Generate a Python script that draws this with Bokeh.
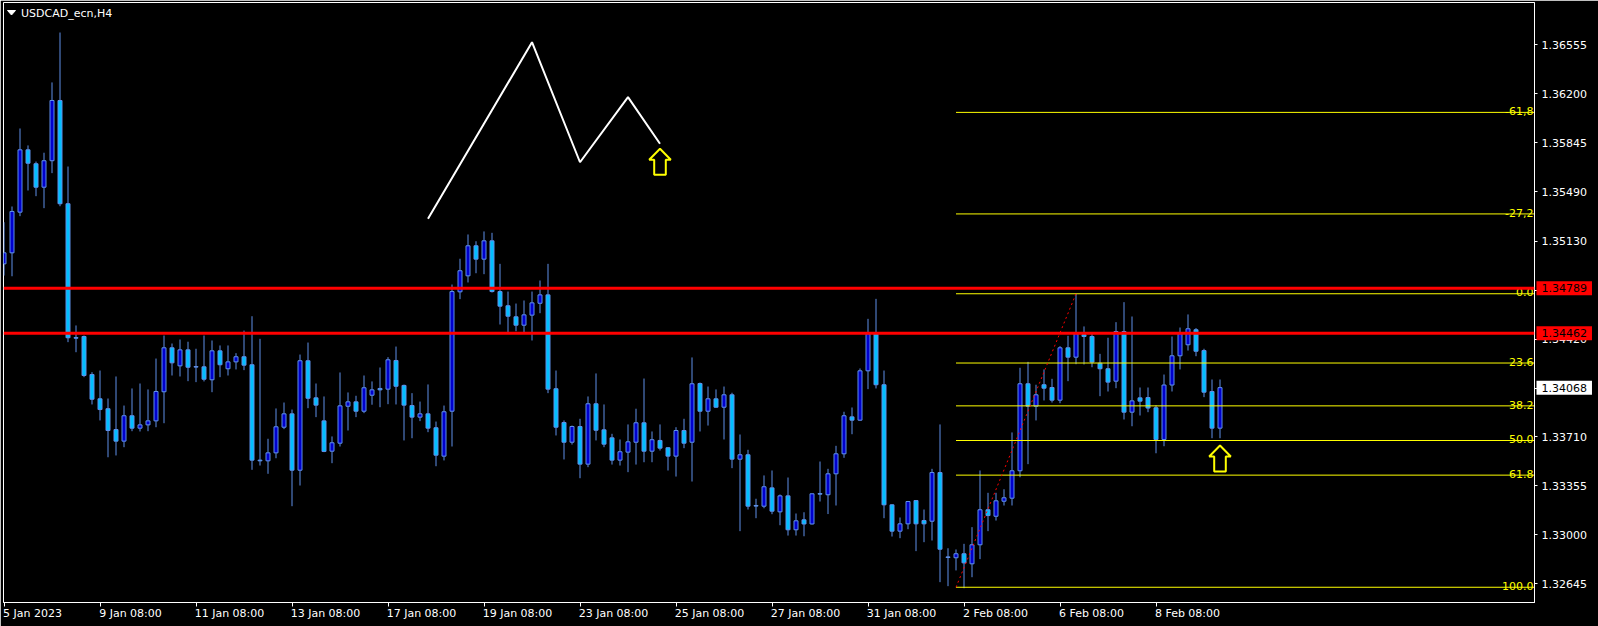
from bokeh.plotting import figure
from bokeh.models import (Range1d, FixedTicker, PrintfTickFormatter, Span, Label,
                          LinearAxis)
from bokeh.embed import file_html
from bokeh.resources import INLINE
from bokeh.core.properties import value

# ---------------- data ----------------
symbol_title = "USDCAD_ecn,H4"

opens = [1.34966, 1.35046, 1.35341, 1.35793, 1.35692, 1.35522, 1.35714, 1.36151, 1.35402, 1.34430,
         1.34439, 1.34163, 1.33987, 1.33915, 1.33764, 1.33680, 1.33864, 1.33774, 1.33798, 1.33827,
         1.34038, 1.34357, 1.34226, 1.34342, 1.34219, 1.34219, 1.34125, 1.34335, 1.34205, 1.34255,
         1.34292, 1.34234, 1.33542, 1.33537, 1.33595, 1.33781, 1.33878, 1.33469, 1.34263, 1.33994,
         1.33827, 1.33607, 1.33665, 1.33933, 1.33965, 1.33897, 1.34013, 1.34062, 1.34057, 1.34265,
         1.34084, 1.33938, 1.33854, 1.33878, 1.33777, 1.33571, 1.33897, 1.34763, 1.34879, 1.35097,
         1.35000, 1.35133, 1.34765, 1.34662, 1.34582, 1.34521, 1.34594, 1.34680, 1.34741, 1.34060,
         1.33815, 1.33672, 1.33786, 1.33513, 1.33951, 1.33762, 1.33704, 1.33542, 1.33600, 1.33672,
         1.33813, 1.33607, 1.33685, 1.33632, 1.33571, 1.33757, 1.33672, 1.34098, 1.33897, 1.33987,
         1.33926, 1.34016, 1.33549, 1.33581, 1.33211, 1.33208, 1.33341, 1.33167, 1.33283, 1.33037,
         1.33109, 1.33079, 1.33298, 1.33291, 1.33443, 1.33588, 1.33856, 1.33832, 1.34190, 1.34459,
         1.34089, 1.33218, 1.33027, 1.33080, 1.33249, 1.33104, 1.33099, 1.33452, 1.32838, 1.32834,
         1.32863, 1.32790, 1.32928, 1.33182, 1.33135, 1.33244, 1.33266, 1.33465, 1.34096, 1.33933,
         1.34089, 1.34069, 1.33977, 1.34357, 1.34289, 1.34453, 1.34439, 1.34245, 1.34205, 1.34115,
         1.34475, 1.33890, 1.33994, 1.33996, 1.33922, 1.33692, 1.34087, 1.34299, 1.34379, 1.34488,
         1.34337, 1.34040, 1.33774]
highs = [1.35268, 1.35382, 1.35948, 1.35825, 1.35708, 1.35772, 1.36282, 1.36644, 1.35672, 1.34519,
         1.34446, 1.34180, 1.34192, 1.33989, 1.34149, 1.33938, 1.34062, 1.34098, 1.34055, 1.34279,
         1.34446, 1.34388, 1.34417, 1.34401, 1.34350, 1.34446, 1.34410, 1.34374, 1.34374, 1.34318,
         1.34482, 1.34586, 1.34422, 1.33697, 1.33917, 1.33960, 1.33909, 1.34308, 1.34395, 1.34098,
         1.34004, 1.33714, 1.34178, 1.34033, 1.34009, 1.34156, 1.34113, 1.34214, 1.34289, 1.34366,
         1.34090, 1.34028, 1.33967, 1.34091, 1.33822, 1.33938, 1.34816, 1.35003, 1.35179, 1.35130,
         1.35201, 1.35191, 1.34966, 1.34765, 1.34678, 1.34700, 1.34765, 1.34845, 1.34966, 1.34192,
         1.33830, 1.33793, 1.33842, 1.34004, 1.34171, 1.33946, 1.33733, 1.33692, 1.33801, 1.33915,
         1.34134, 1.33750, 1.33801, 1.33636, 1.33781, 1.33842, 1.34287, 1.34105, 1.34076, 1.34055,
         1.34076, 1.34031, 1.33728, 1.33617, 1.33262, 1.33431, 1.33467, 1.33293, 1.33416, 1.33155,
         1.33164, 1.33300, 1.33532, 1.33479, 1.33646, 1.33893, 1.33924, 1.34207, 1.34567, 1.34712,
         1.34192, 1.33222, 1.33126, 1.33246, 1.33253, 1.33184, 1.33479, 1.33801, 1.32903, 1.32894,
         1.32935, 1.33056, 1.33467, 1.33305, 1.33305, 1.33331, 1.33743, 1.34212, 1.34255, 1.34089,
         1.34200, 1.34132, 1.34369, 1.34444, 1.34749, 1.34512, 1.34463, 1.34313, 1.34430, 1.34543,
         1.34688, 1.34584, 1.34069, 1.34069, 1.33940, 1.34163, 1.34439, 1.34504, 1.34599, 1.34500,
         1.34350, 1.34127, 1.34127]
lows = [1.34881, 1.34876, 1.35312, 1.35498, 1.35457, 1.35370, 1.35624, 1.35384, 1.34398, 1.34325,
        1.34144, 1.33946, 1.33830, 1.33563, 1.33576, 1.33636, 1.33752, 1.33750, 1.33752, 1.33781,
        1.33810, 1.34156, 1.34149, 1.34115, 1.34108, 1.34113, 1.34035, 1.34144, 1.34156, 1.34200,
        1.34195, 1.33472, 1.33503, 1.33443, 1.33556, 1.33767, 1.33208, 1.33358, 1.33919, 1.33854,
        1.33600, 1.33520, 1.33641, 1.33757, 1.33854, 1.33883, 1.33944, 1.33926, 1.33948, 1.33946,
        1.33685, 1.33701, 1.33825, 1.33745, 1.33498, 1.33540, 1.33641, 1.34710, 1.34831, 1.34898,
        1.34891, 1.34758, 1.34526, 1.34470, 1.34477, 1.34470, 1.34410, 1.34608, 1.34028, 1.33721,
        1.33547, 1.33655, 1.33411, 1.33491, 1.33685, 1.33636, 1.33510, 1.33503, 1.33455, 1.33510,
        1.33527, 1.33527, 1.33612, 1.33467, 1.33423, 1.33629, 1.33387, 1.33750, 1.33793, 1.33922,
        1.33692, 1.33484, 1.33027, 1.33184, 1.33121, 1.33193, 1.33150, 1.33070, 1.32995, 1.32995,
        1.32990, 1.33075, 1.33242, 1.33151, 1.33213, 1.33559, 1.33730, 1.33828, 1.34057, 1.34062,
        1.33121, 1.32988, 1.32976, 1.33041, 1.32882, 1.32947, 1.32959, 1.32657, 1.32628, 1.32742,
        1.32613, 1.32693, 1.32824, 1.33027, 1.33104, 1.33213, 1.33213, 1.33418, 1.33513, 1.33830,
        1.33975, 1.33960, 1.33955, 1.34115, 1.34238, 1.34236, 1.34216, 1.34006, 1.34040, 1.34064,
        1.33837, 1.33788, 1.33866, 1.33890, 1.33592, 1.33643, 1.34040, 1.34200, 1.34337, 1.34296,
        1.33999, 1.33701, 1.33701]
closes = [1.35046, 1.35346, 1.35793, 1.35696, 1.35522, 1.35714, 1.36151, 1.35402, 1.34430, 1.34428,
          1.34156, 1.33984, 1.33909, 1.33757, 1.33680, 1.33864, 1.33774, 1.33798, 1.33827, 1.34040,
          1.34357, 1.34248, 1.34342, 1.34216, 1.34219, 1.34129, 1.34335, 1.34234, 1.34255, 1.34292,
          1.34231, 1.33542, 1.33537, 1.33595, 1.33784, 1.33878, 1.33469, 1.34263, 1.33991, 1.33941,
          1.33605, 1.33668, 1.33936, 1.33965, 1.33897, 1.34067, 1.34052, 1.34052, 1.34270, 1.34078,
          1.33941, 1.33854, 1.33878, 1.33774, 1.33578, 1.33893, 1.34765, 1.34916, 1.35097, 1.35000,
          1.35133, 1.34765, 1.34659, 1.34586, 1.34521, 1.34596, 1.34683, 1.34741, 1.34057, 1.33781,
          1.33672, 1.33786, 1.33513, 1.33951, 1.33759, 1.33658, 1.33542, 1.33603, 1.33675, 1.33813,
          1.33607, 1.33690, 1.33629, 1.33571, 1.33757, 1.33665, 1.34096, 1.33897, 1.33987, 1.33926,
          1.34016, 1.33549, 1.33581, 1.33208, 1.33211, 1.33349, 1.33172, 1.33283, 1.33037, 1.33102,
          1.33079, 1.33298, 1.33297, 1.33443, 1.33588, 1.33864, 1.33832, 1.34190, 1.34459, 1.34089,
          1.33218, 1.33027, 1.33080, 1.33242, 1.33080, 1.33080, 1.33452, 1.32896, 1.32838, 1.32863,
          1.32797, 1.32928, 1.33182, 1.33140, 1.33247, 1.33269, 1.33465, 1.34096, 1.33933, 1.34016,
          1.34064, 1.33977, 1.34357, 1.34289, 1.34459, 1.34439, 1.34253, 1.34205, 1.34108, 1.34475,
          1.33890, 1.33972, 1.33970, 1.33920, 1.33692, 1.34087, 1.34299, 1.34459, 1.34495, 1.34332,
          1.34035, 1.33774, 1.34068]

date_tick_idx = [0, 12, 24, 36, 48, 60, 72, 84, 96, 108, 120, 132, 144]
date_tick_labels = ["5 Jan 2023", "9 Jan 08:00", "11 Jan 08:00", "13 Jan 08:00", "17 Jan 08:00",
                    "19 Jan 08:00", "23 Jan 08:00", "25 Jan 08:00", "27 Jan 08:00", "31 Jan 08:00",
                    "2 Feb 08:00", "6 Feb 08:00", "8 Feb 08:00"]

price_ticks = [1.36555, 1.36200, 1.35845, 1.35490, 1.35130, 1.34775, 1.34420, 1.34065,
               1.33710, 1.33355, 1.33000, 1.32645]

resistance_levels = [1.34789, 1.34462]
current_price = 1.34068

fib_start_idx = 119
fib_end_idx = 134
fib_low = 1.32620
fib_high = 1.34749
fib_ratios = [-0.618, -0.272, 0.0, 0.236, 0.382, 0.5, 0.618, 1.0]
fib_texts = ["-61,8", "-27,2", "0.0", "23.6", "38.2", "50.0", "61.8", "100.0"]

zigzag_idx = [53, 66, 72, 78, 82]
zigzag_price = [1.35293, 1.36574, 1.35703, 1.36175, 1.35837]

arrow_idx = [82, 152]
arrow_top_price = [1.35801, 1.33648]

# ---------------- geometry / style ----------------
FONT = "DejaVu Sans"
FS = "11px"
BULL_FILL = "#0000CD"
BEAR_FILL = "#00BFFF"
WICK = "#5F8FE8"

FRAME_L, FRAME_T, FRAME_W, FRAME_H = 3, 2, 1531, 600
PX_PER_BAR = 8.0
BAR0_PX = 3.5
Y_TOP = 1.368618
PRICE_PER_PX = 7.254e-5

x_start = (FRAME_L - BAR0_PX) / PX_PER_BAR
x_end = x_start + FRAME_W / PX_PER_BAR
y_start = Y_TOP - FRAME_H * PRICE_PER_PX


def ix(px):
    return x_start + (px - FRAME_L) / PX_PER_BAR


def py(px):
    return Y_TOP - (px - FRAME_T) * PRICE_PER_PX


# approximate DejaVu Sans advance widths (1/1000 em) for label placement
ADV = {c: 636 for c in "0123456789"}
ADV.update({" ": 318, ":": 337, "J": 295, "a": 613, "n": 634, "F": 575, "e": 615, "b": 635})


def text_w(s, size=11):
    return sum(ADV.get(c, 600) for c in s) * size / 1000.0


p = figure(frame_width=FRAME_W, frame_height=FRAME_H,
           min_border_left=FRAME_L, min_border_top=FRAME_T,
           min_border_right=64, min_border_bottom=24,
           x_range=Range1d(x_start, x_end), y_range=Range1d(y_start, Y_TOP),
           y_axis_location="right", output_backend="svg", toolbar_location=None,
           background_fill_color="black", border_fill_color="black",
           outline_line_color="white")
p.grid.visible = False

# right price axis
ya = p.yaxis[0]
ya.ticker = FixedTicker(ticks=price_ticks)
ya.formatter = PrintfTickFormatter(format="%.5f")
ya.major_label_text_color = "white"
ya.major_label_text_font = FONT
ya.major_label_text_font_size = FS
ya.axis_line_color = "white"
ya.major_tick_line_color = "white"
ya.major_tick_out = 3
ya.major_tick_in = 0
ya.minor_tick_line_color = None
ya.major_label_standoff = 4

# bottom time axis: tick marks on the bar index scale
xa = p.xaxis[0]
xa.ticker = FixedTicker(ticks=date_tick_idx)
xa.major_label_text_color = None
xa.major_label_text_font_size = "0px"
xa.major_label_standoff = 0
xa.axis_line_color = "white"
xa.major_tick_line_color = "white"
xa.major_tick_out = 4
xa.major_tick_in = 0
xa.minor_tick_line_color = None

# second bottom axis carries the date labels, left-aligned at their ticks
p.extra_x_ranges = {"px": Range1d(0, FRAME_W)}
label_pos = []
for i, lab in zip(date_tick_idx, date_tick_labels):
    tick_px = BAR0_PX + PX_PER_BAR * i - FRAME_L
    label_pos.append(int(round(tick_px - 1 + text_w(lab) / 2)))
xa2 = LinearAxis(x_range_name="px", ticker=FixedTicker(ticks=label_pos),
                 major_label_overrides={k: v for k, v in zip(label_pos, date_tick_labels)},
                 major_label_text_color="white", major_label_text_font=FONT,
                 major_label_text_font_size=FS, major_label_standoff=0,
                 axis_line_color=None, major_tick_line_color=None,
                 major_tick_out=0, major_tick_in=0, minor_tick_line_color=None)
p.add_layout(xa2, "below")

# candles
idx = list(range(len(opens)))
min_h = 0.6 * PRICE_PER_PX
bx, btop, bbot, sx, stop, sbot = [], [], [], [], [], []
for i, o, c in zip(idx, opens, closes):
    top, bot = max(o, c), min(o, c)
    if top - bot < min_h:
        mid = (top + bot) / 2
        top, bot = mid + min_h / 2, mid - min_h / 2
    if c > o:
        bx.append(i); btop.append(top); bbot.append(bot)
    else:
        sx.append(i); stop.append(top); sbot.append(bot)

p.segment(x0=idx, y0=lows, x1=idx, y1=highs, line_color=WICK, line_width=1)
p.vbar(x=bx, top=btop, bottom=bbot, width=0.5, fill_color=BULL_FILL, line_color=WICK, line_width=1)
p.vbar(x=sx, top=stop, bottom=sbot, width=0.5, fill_color=BEAR_FILL, line_color=WICK, line_width=1)

# horizontal resistance lines
for lvl in resistance_levels:
    p.add_layout(Span(location=lvl, dimension="width", line_color="#FF0000", line_width=3))

# fibonacci retracement
fib_prices = [fib_high - r * (fib_high - fib_low) for r in fib_ratios]
p.segment(x0=[fib_start_idx] * len(fib_prices), y0=fib_prices,
          x1=[x_end] * len(fib_prices), y1=fib_prices, line_color="#FFFF00", line_width=1)
p.line([fib_start_idx, fib_end_idx], [fib_low, fib_high], line_color="#FF0000",
       line_width=1, line_dash="2 3")
p.text(x=[ix(1533)] * len(fib_prices), y=[v + 1.3 * PRICE_PER_PX for v in fib_prices],
       text=fib_texts, text_align="right", text_baseline="alphabetic",
       text_color="#FFFF00", text_font=value(FONT), text_font_size=value(FS))

# zigzag pattern
p.line(zigzag_idx, zigzag_price, line_color="white", line_width=2)

# outline up arrows
shape = [(0, 0), (10.8, 11), (5.8, 11), (5.8, 26), (-5.8, 26), (-5.8, 11), (-10.8, 11)]
axs, ays = [], []
for cx, top in zip(arrow_idx, arrow_top_price):
    axs.append([cx + dx / PX_PER_BAR for dx, dy in shape])
    ays.append([top - dy * PRICE_PER_PX for dx, dy in shape])
p.patches(axs, ays, fill_color="black", line_color="#FFFF00", line_width=2)

# title with small triangle
p.patch([ix(7), ix(15), ix(11)], [py(10), py(10), py(14.5)], fill_color="white", line_color="white")
p.text(x=[ix(20.5)], y=[py(12.8)], text=[symbol_title], text_color="white",
       text_baseline="middle", text_font=value(FONT), text_font_size=value(FS))

# price boxes on the price axis (placed in the right side panel so they are not clipped)
for lvl, bg in [(resistance_levels[0], "#FF0000"), (resistance_levels[1], "#FF0000"),
                (current_price, "white")]:
    p.add_layout(Label(x=ix(1536), y=lvl, text=f"{lvl:.5f}", text_color="black",
                       text_font=FONT, text_font_size=FS, text_align="left",
                       text_baseline="middle", background_fill_color=bg, padding=(5, 3)),
                 "right")

open("out.html", "w").write(file_html(p, INLINE))
